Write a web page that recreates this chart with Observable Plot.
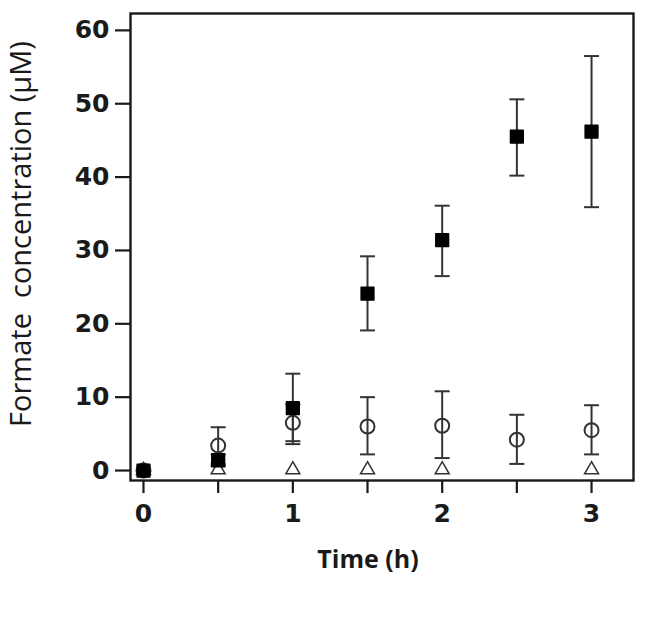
<!DOCTYPE html>
<html>
<head>
<meta charset="utf-8">
<script src="https://cdn.jsdelivr.net/npm/d3@7"></script>
<script src="https://cdn.jsdelivr.net/npm/@observablehq/plot@0.6"></script>
<style>
  html, body { margin: 0; padding: 0; background: #fff; }
  #chart svg { display: block; }
</style>
</head>
<body>
<div id="chart"></div>
<script>
// ---- data ----
const times = [0, 0.5, 1, 1.5, 2, 2.5, 3];
// filled squares
const squareMean = [0, 1.4, 8.5, 24.1, 31.4, 45.5, 46.2];
const squareLow  = [0, 0.6, 3.6, 19.1, 26.5, 40.2, 35.9];
const squareHigh = [0, 2.2, 13.2, 29.2, 36.1, 50.6, 56.5];
// open circles
const circleMean = [0, 3.4, 6.5, 6.0, 6.1, 4.2, 5.5];
const circleLow  = [0, 0.9, 4.0, 2.2, 1.7, 0.9, 2.2];
const circleHigh = [0, 5.9, 9.0, 10.0, 10.8, 7.6, 8.9];
// open triangles
const triTimes = [0, 0.5, 1, 1.5, 2, 3];
const triMean  = [0, 0.1, 0.1, 0.1, 0.1, 0.1];

const xTicks = [0, 0.5, 1, 1.5, 2, 2.5, 3];
const xTickLabels = [0, 1, 2, 3];
const yTicks = [0, 10, 20, 30, 40, 50, 60];
const xTitle = "Time (h)";
const yTitle = "Formate\u00a0\u00a0concentration (\u03bcM)";

// ---- tables ----
const squares = times.map((t, i) => ({t, v: squareMean[i], lo: squareLow[i], hi: squareHigh[i]}));
const circles = times.map((t, i) => ({t, v: circleMean[i], lo: circleLow[i], hi: circleHigh[i]}));
const tris = triTimes.map((t, i) => ({t, v: triMean[i]}));
const bars = [...squares, ...circles].filter(d => d.hi > d.lo);
const caps = bars.flatMap(d => [{t: d.t, v: d.lo}, {t: d.t, v: d.hi}]);

const capSymbol = {
  draw(context, size) {
    const w = 7.5;
    context.moveTo(-w, 0);
    context.lineTo(w, 0);
  }
};

const ink = "#1a1a1a";

const chart = Plot.plot({
  width: 670,
  height: 619,
  marginLeft: 130,
  marginRight: 37,
  marginTop: 13,
  marginBottom: 139,
  x: {domain: [-0.087, 3.281]},
  y: {domain: [-1.36, 62.3]},
  style: {background: "#fff", color: ink},
  marks: [
    Plot.axisY({
      ticks: yTicks, tickSize: 15, tickPadding: 6, label: null,
      fontSize: 25, fontWeight: "bold", fontFamily: "DejaVu Sans",
      strokeWidth: 2.2, stroke: ink, fill: ink
    }),
    Plot.axisX({
      ticks: xTicks, tickSize: 13, tickFormat: () => "", label: null,
      strokeWidth: 2.2, stroke: ink
    }),
    Plot.text(xTickLabels, {
      x: d => d, text: d => String(d), frameAnchor: "bottom", lineAnchor: "top",
      dy: 24, fontSize: 25, fontWeight: "bold", fontFamily: "DejaVu Sans", fill: ink
    }),
    Plot.text([xTitle], {
      frameAnchor: "bottom", text: d => d, dy: 70, dx: -14, lineAnchor: "top",
      fontSize: 25, fontWeight: "bold", fontFamily: "Open Sans", fill: ink
    }),
    Plot.text([yTitle], {
      frameAnchor: "left", text: d => d, rotate: -90, textAnchor: "middle",
      dx: -109, dy: -13,
      fontSize: 29, fontFamily: "Open Sans", fill: ink
    }),
    Plot.frame({stroke: ink, strokeWidth: 2.4}),
    Plot.ruleX(bars, {x: "t", y1: "lo", y2: "hi", stroke: "#333", strokeWidth: 2}),
    Plot.dot(caps, {x: "t", y: "v", symbol: capSymbol, stroke: "#333", strokeWidth: 2}),
    Plot.dot(tris, {x: "t", y: "v", symbol: "triangle", r: 5.2, stroke: "#333", strokeWidth: 1.5, fill: "#fff"}),
    Plot.dot(circles, {x: "t", y: "v", symbol: "circle", r: 7, stroke: "#333", strokeWidth: 2, fill: "none"}),
    Plot.dot(squares, {x: "t", y: "v", symbol: "square", r: 7.2, fill: "#000", stroke: "#000", strokeWidth: 1.5, strokeLinejoin: "round"})
  ]
});

document.getElementById("chart").appendChild(chart);
</script>
</body>
</html>
